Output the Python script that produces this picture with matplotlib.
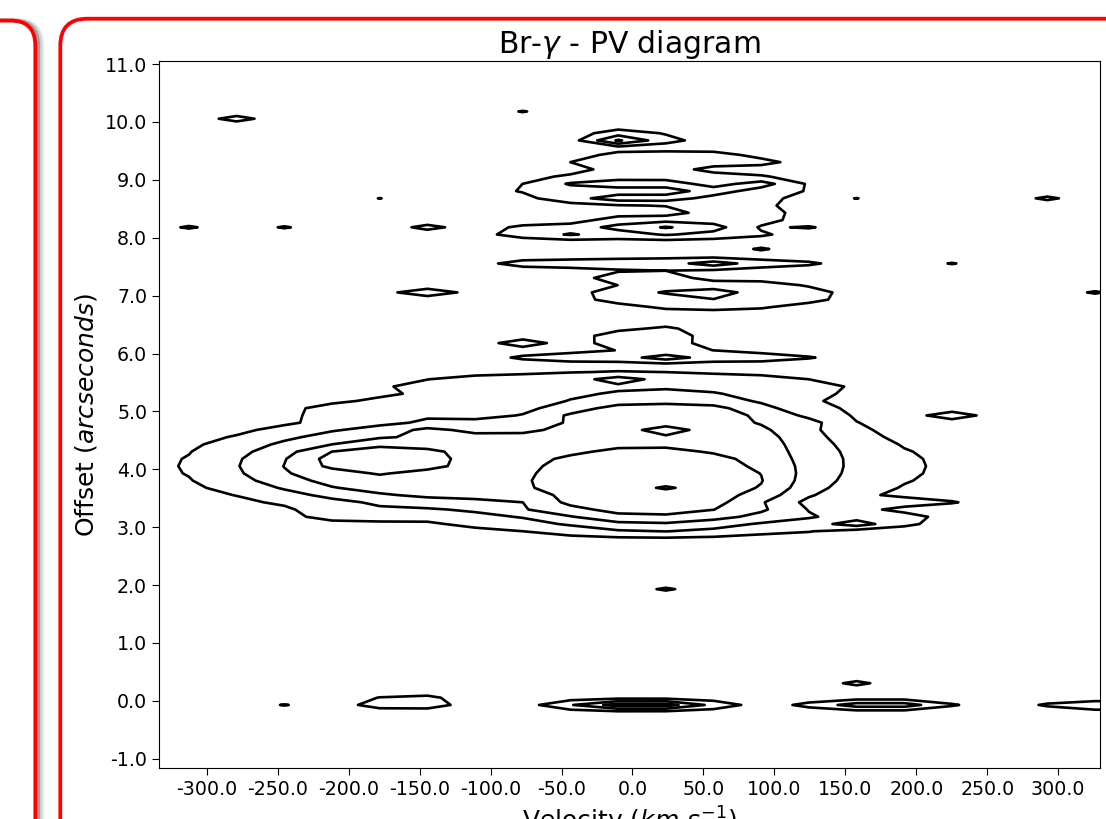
import matplotlib

matplotlib.use("Agg")
import matplotlib.pyplot as plt
import numpy as np
from matplotlib.patches import FancyBboxPatch
from matplotlib.transforms import IdentityTransform

# extended emission patches:
# centre velocity (km/s), centre offset (arcsec), half width (km/s), half height (arcsec), level reached
patch_vel = [-52, 15, 15, -10, -170, 188, 165, -180,
             -72, 20,
             -90, 20, 20, 10,
             -177, 10,
             28, 21, 14, 0, 72, -3, 18, 55, 0, 22, 13, -80, -144.5, 25,
             1, 5, 62, 89, 30, 52, 62, 25,
             130, 232, 157.9, 23.5,
             -160, 5, 5, 4, 173, 175, 345]
patch_off = [4.05, 4.3, 3.2, 5.4, 5.0, 3.43, 3.15, 3.25,
             4.1, 4.15,
             4.05, 4.1, 4.9, 3.3,
             4.17, 3.78,
             9.34, 8.85, 9.2, 8.1, 8.42, 9.72, 7.55, 7.02, 7.33, 5.96, 6.25, 6.17, 7.055, 8.3,
             8.95, 8.7, 8.8, 8.93, 8.17, 7.55, 7.0, 5.93,
             4.805, 4.93, 3.055, 4.64,
             -0.02, -0.07, -0.07, -0.07, -0.05, -0.05, -0.08]
patch_hw = [255, 150, 160, 160, 62, 38, 35, 45,
            205, 130,
            165, 95, 70, 100,
            45, 84,
            75, 102, 35, 100, 35, 32, 112, 85, 30, 110, 38, 22, 30, 50,
            48, 48, 22, 20, 45, 22, 30, 18,
            18, 20, 18, 10,
            28, 62, 48, 28, 55, 43, 55]
patch_hh = [0.95, 1.3, 0.32, 0.28, 0.2, 0.06, 0.18, 0.15,
            0.85, 1.2,
            0.58, 1.03, 0.25, 0.25,
            0.25, 0.6,
            0.12, 0.3, 0.1, 0.15, 0.18, 0.14, 0.12, 0.25, 0.1, 0.1, 0.2, 0.06, 0.05, 0.1,
            0.09, 0.05, 0.06, 0.06, 0.12, 0.05, 0.07, 0.04,
            0.04, 0.05, 0.05, 0.08,
            0.1, 0.11, 0.08, 0.05, 0.07, 0.04, 0.11]
patch_level = [1, 1, 1, 1, 1, 1, 1, 1,
               2, 2,
               3, 3, 3, 3,
               4, 4,
               1, 1, 1, 1, 1, 1, 1, 1, 1, 1, 1, 1, 1, 1,
               2, 2, 2, 2, 2, 2, 2, 2,
               2, 1, 2, 4,
               1, 1, 2, 3, 1, 2, 1]

# single-channel spots: velocity, offset, level, strength
spot_vel = [-278.9, -77.3, -312.5, -245.3, -144.5, -178.1, 157.9, 292.3, 225.1, 325.9,
            124.3, 90.7, -10.1, -10.1, -43.7, 23.5, 23.5, -144.5, 23.5, -10.1,
            124.3, 124.3, -245.3, 157.9, 23.5]
spot_off = [10.055, 10.18, 8.18, 8.18, 8.18, 8.68, 8.68, 8.68, 7.555, 7.055,
            8.18, 7.805, 9.68, 9.68, 8.055, 8.18, 7.055, 4.68, 3.68, 5.555,
            2.93, 3.18, -0.07, 0.305, 1.93]
spot_level = [1, 1, 1, 1, 1, 1, 1, 1, 1, 1,
              1, 1, 2, 3, 2, 3, 2, 3, 5, 2,
              2, 2, 1, 1, 1]
spot_peak = [0.8, 0.55, 0.61, 0.58, 0.75, 0.52, 0.52, 0.66, 0.55, 0.6,
             0.58, 0.6, 0.9, 0.75, 0.6, 0.6, 0.6, 0.85, 0.63, 0.93,
             0.9, 0.55, 0.55, 0.7, 0.62]

contour_levels = [0.5, 1.5, 2.5, 3.5, 4.5]
x_ticks = [-300, -250, -200, -150, -100, -50, 0, 50, 100, 150, 200, 250, 300]
y_ticks = [-1, 0, 1, 2, 3, 4, 5, 6, 7, 8, 9, 10, 11]

# sampling of the cube
first_channel = -346.1
channel_width = 33.6
n_channels = 22
first_row = -1.195
pixel_scale = 0.125
n_rows = 100


def build_map():
    vel = first_channel + channel_width * np.arange(n_channels)
    off = first_row + pixel_scale * np.arange(n_rows)
    vv, oo = np.meshgrid(vel, off)

    entries = list(zip(patch_vel, patch_off, patch_hw, patch_hh, patch_level,
                       [1.0] * len(patch_vel)))
    entries += list(zip(spot_vel, spot_off, [8.0] * len(spot_vel), [0.03] * len(spot_vel),
                        spot_level, spot_peak))

    layers = np.zeros((len(contour_levels), n_rows, n_channels))
    for v, o, hw, hh, lev, peak in entries:
        r = np.hypot((vv - v) / hw, (oo - o) / hh)
        layers[lev - 1] = np.maximum(layers[lev - 1], peak / (1 + r**12))
    # each level sits on top of the one below it
    for k in range(1, len(layers)):
        layers[k] = np.minimum(layers[k], layers[k - 1])
    return vel, off, layers.sum(axis=0)


def draw_boxes(fig):
    ident = IdentityTransform()
    for dx, col, lw in [(7, "#ececec", 3), (5, "#cfcfcf", 3), (3, "#a0a0a0", 2.5)]:
        shadow = FancyBboxPatch((-100 + dx, -100), 135.3, 898.5,
                                boxstyle="round,pad=0,rounding_size=25",
                                transform=ident, fill=False, edgecolor=col, lw=lw)
        fig.add_artist(shadow)
    left = FancyBboxPatch((-100, -100), 135.3, 898.5,
                          boxstyle="round,pad=0,rounding_size=25",
                          transform=ident, fill=False, edgecolor="red", lw=2.7)
    right = FancyBboxPatch((60.3, -100), 1300, 900.3,
                           boxstyle="round,pad=0,rounding_size=27",
                           transform=ident, fill=False, edgecolor="red", lw=2.7)
    fig.add_artist(left)
    fig.add_artist(right)


def plot_pv():
    vel, off, flux = build_map()

    fig = plt.figure(figsize=(11.06, 8.19), dpi=100)
    draw_boxes(fig)
    ax = fig.add_axes([0.14376, 0.06227, 0.85082, 0.86325])
    ax.contour(vel, off, flux, levels=contour_levels, colors="black", linewidths=1.9)

    ax.set_xlim(-333.6, 329.4)
    ax.set_ylim(-1.159, 11.052)
    ax.set_xticks(x_ticks, labels=[f"{t:.1f}" for t in x_ticks])
    ax.set_yticks(y_ticks, labels=[f"{t:.1f}" for t in y_ticks])
    ax.tick_params(labelsize=13.7, length=5)
    ax.set_title(r"Br-$\gamma$ - PV diagram", fontsize=21.5)
    ax.set_xlabel(r"Velocity ($km\ s^{-1}$)", fontsize=18)
    ax.set_ylabel(r"Offset ($arcseconds$)", fontsize=18)

    fig.savefig("out.png", dpi=100)


if __name__ == "__main__":
    plot_pv()
